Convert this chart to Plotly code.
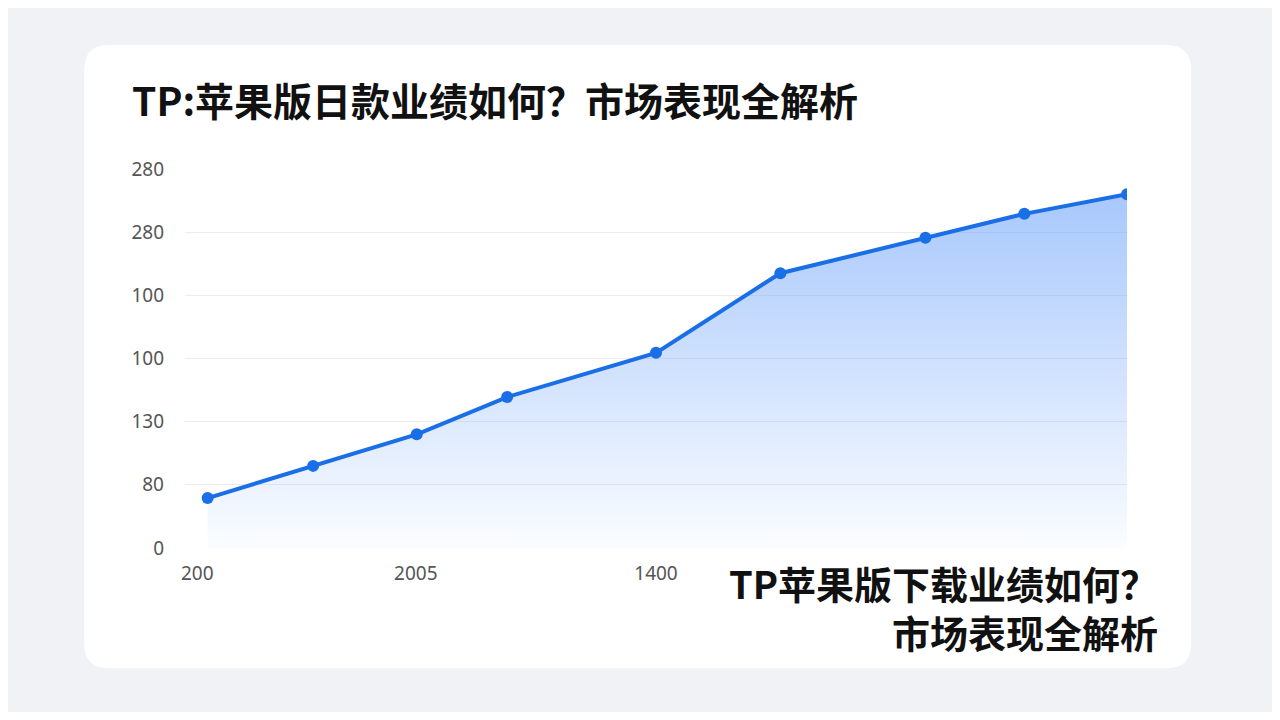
import plotly.graph_objects as go

# data (x on a 0-10 position scale)
x_pos = [0.24, 1.36, 2.46, 3.42, 5.0, 6.32, 7.86, 8.91, 10.0]
y_vals = [0.79, 1.30, 1.80, 2.39, 3.09, 4.35, 4.91, 5.29, 5.60]
y_tickvals = [0, 1, 2, 3, 4, 5, 6]
y_ticktext = ["0", "80", "130", "100", "100", "280", "280"]
x_tickvals = [0.13, 2.45, 5.0]
x_ticktext = ["200", "2005", "1400"]

title = "TP:苹果版日款业绩如何？市场表现全解析"
note = "TP苹果版下载业绩如何？<br>市场表现全解析"

fig = go.Figure()
fig.add_trace(go.Scatter(
    x=x_pos, y=y_vals, mode="lines+markers",
    line=dict(color="#1a6ee6", width=4),
    marker=dict(size=12, color="#1a6ee6"),
    fill="tozeroy",
    fillgradient=dict(type="vertical",
                      colorscale=[[0, "rgba(120,170,250,0.03)"], [1, "rgba(120,170,250,0.65)"]]),
    hoverinfo="skip", showlegend=False,
))

# rounded white card behind the plot
x0, x1, y0, y1 = -0.107, 1.068, -0.317, 1.327
rx, ry = 0.026, 0.066
card = (f"M {x0+rx},{y0} L {x1-rx},{y0} Q {x1},{y0} {x1},{y0+ry} L {x1},{y1-ry} "
        f"Q {x1},{y1} {x1-rx},{y1} L {x0+rx},{y1} Q {x0},{y1} {x0},{y1-ry} "
        f"L {x0},{y0+ry} Q {x0},{y0} {x0+rx},{y0} Z")
fig.add_shape(type="path", path=card, xref="paper", yref="paper",
              fillcolor="white", line=dict(width=0), layer="below")

fig.add_annotation(text="<b>" + title + "</b>", xref="paper", yref="paper",
                   x=-0.058, y=1.184, xanchor="left", yanchor="middle", showarrow=False,
                   font=dict(size=39, color="#111", family="Noto Sans CJK SC"))
fig.add_annotation(text="<b>" + note + "</b>", xref="paper", yref="paper",
                   x=1.035, y=-0.155, xanchor="right", yanchor="middle", showarrow=False,
                   align="right",
                   font=dict(size=38, color="#111", family="Noto Sans CJK SC"))

fig.update_layout(
    width=1264, height=704,
    margin=dict(l=177, r=145, t=161, b=164),
    paper_bgcolor="#f0f2f5", plot_bgcolor="white",
    font=dict(family="Noto Sans, Noto Sans CJK SC", color="#555"),
    xaxis=dict(range=[0, 10], tickvals=x_tickvals, ticktext=x_ticktext,
               showgrid=False, zeroline=False, showline=False,
               tickfont=dict(size=19, color="#555"), ticklabelstandoff=12),
    yaxis=dict(range=[0, 6], tickvals=y_tickvals, ticktext=y_ticktext,
               gridcolor="#ececec", zeroline=False, showline=False,
               tickfont=dict(size=19, color="#555"), ticklabelstandoff=20),
)

fig.write_html("out.html")
